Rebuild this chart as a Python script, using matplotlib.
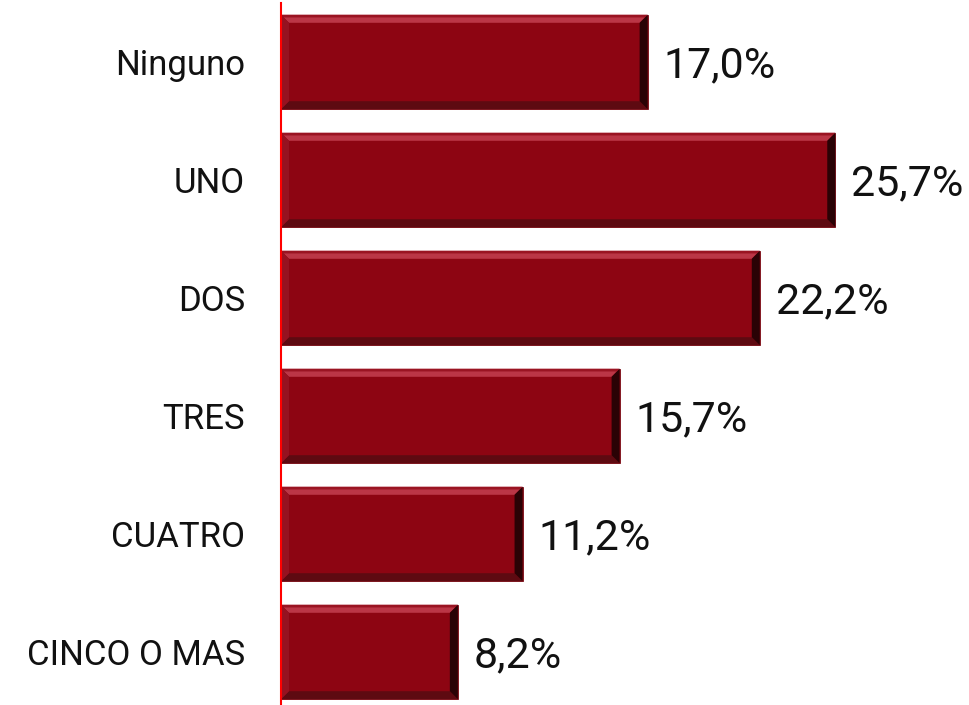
import matplotlib
matplotlib.use("Agg")
import matplotlib.pyplot as plt
from matplotlib.patches import Polygon

categories = ["Ninguno", "UNO", "DOS", "TRES", "CUATRO", "CINCO O MAS"]
values = [17.0, 25.7, 22.2, 15.7, 11.2, 8.2]
labels = ["17,0%", "25,7%", "22,2%", "15,7%", "11,2%", "8,2%"]

FONT = ["Roboto", "DejaVu Sans"]

BAR_COLOR = "#8d0512"
TOP_OUTER = "#9a1422"
TOP_COLOR = "#bb3646"
BOTTOM_COLOR = "#5e0a11"
RIGHT_COLOR = "#2a0205"
LEFT_COLOR = "#961220"

fig = plt.figure(figsize=(9.69, 7.05), dpi=100)
ax = fig.add_axes([281 / 969, -6 / 705, 647 / 969, 708 / 705])
ax.set_xlim(0, 30)
ax.set_ylim(len(categories) - 0.5, -0.5)

height = 0.8
ys = list(range(len(categories)))
ax.barh(ys, values, height=height, color=BAR_COLOR, edgecolor="#7a0a14", linewidth=0.6, zorder=2)

# bevelled edges: 8 px wide strips, converted to data units
px_x = 30 / 647
px_y = 6 / 708
bx = 8 * px_x
by = 8 * px_y


def strip(pts, color):
    ax.add_patch(Polygon(pts, closed=True, color=color, lw=0, zorder=3))


for y, v in zip(ys, values):
    top, bot = y - height / 2, y + height / 2
    strip([(0, top), (v, top), (v - bx, top + by), (bx, top + by)], TOP_COLOR)
    strip([(0, top), (v, top), (v - bx / 3, top + by / 3), (bx / 3, top + by / 3)], TOP_OUTER)
    strip([(0, bot), (v, bot), (v - bx, bot - by), (bx, bot - by)], BOTTOM_COLOR)
    strip([(v, top), (v, bot), (v - bx, bot - by), (v - bx, top + by)], RIGHT_COLOR)
    strip([(0, top), (0, bot), (bx, bot - by), (bx, top + by)], LEFT_COLOR)

for y, v, lab in zip(ys, values, labels):
    ax.text(v + 0.75, y + 0.03, lab, va="center", ha="left", fontsize=31,
            family=FONT, color="#111111", clip_on=False)

ax.set_yticks(ys)
ax.set_yticklabels(categories, fontsize=25, family=FONT, color="#111111")
ax.tick_params(axis="y", length=0, pad=26)
ax.set_xticks([])
for side in ["top", "right", "bottom"]:
    ax.spines[side].set_visible(False)
ax.spines["left"].set_color("#ff0000")
ax.spines["left"].set_linewidth(1.5)
ax.spines["left"].set_zorder(5)

fig.savefig("out.png", dpi=100)
